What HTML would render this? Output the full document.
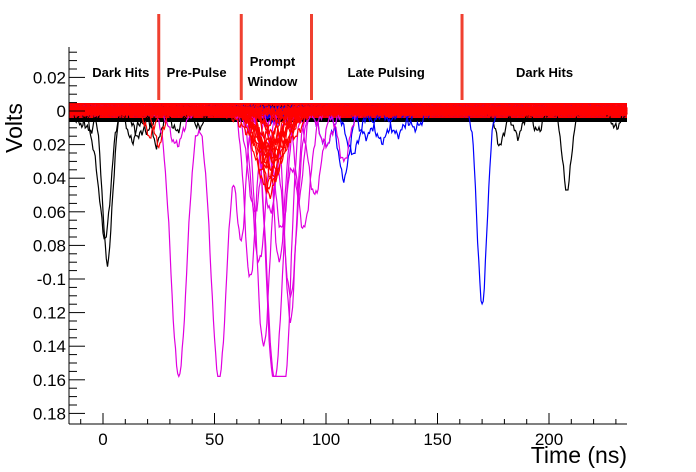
<!DOCTYPE html>
<html><head><meta charset="utf-8"><style>
body{margin:0;background:#fff;}
svg{display:block;font-family:"Liberation Sans",Arial,sans-serif;}
</style></head><body>
<svg id="c" width="696" height="472" viewBox="0 0 696 472">
<g id="traces"></g>
<g id="axes"></g>
<g id="ann"></g>
</svg>
<script>
// data
const xTicks=[0,50,100,150,200];
const yTicks=[0.02,0,-0.02,-0.04,-0.06,-0.08,-0.1,-0.12,-0.14,-0.16,-0.18];
const yTickLabels=["0.02","0","0.02","0.04","0.06","0.08","-0.1","0.12","0.14","0.16","0.18"];
const blackPulses=[[[2,0.09,2.2]],[[1,0.075,2.5],[-4,0.015,2]],[[13,0.018,2],[20,0.012,2]],[[-6,0.012,2],[16,0.015,2.5]],[[208,0.047,2]],[[178,0.02,2],[186,0.015,2]],[[195,0.012,2],[230,0.01,2]],[[24,0.02,2],[43,0.01,2]],[[-10,0.008,2],[33,0.012,2]]];
const bluePulses=[[[170,0.115,2.2]],[[108,0.04,2.5]],[[100,0.02,3],[118,0.015,3]],[[125,0.018,3],[140,0.01,3]],[[112,0.025,3],[132,0.014,3]],[[77,0.006,3]]];
const magentaPulses=[[[34,0.158,3.5],[52,0.16,3.5],[62,0.075,2],[77,0.16,3.5]],[[72,0.14,3],[84,0.11,3]],[[76,0.15,3],[82,0.14,2.5]],[[66,0.1,2.5],[80,0.07,3],[88,0.05,2]],[[33,0.02,3],[70,0.09,3],[90,0.07,3]],[[75,0.06,3],[95,0.05,3]],[[68,0.06,3],[108,0.03,2.5]],[[84,0.125,2.5]],[[79,0.09,2.5],[100,0.02,3]]];
const redPulses=[[[75,0.05,3]],[[73,0.045,4]],[[77,0.04,3.5]],[[71,0.035,4]],[[79,0.03,4]],[[75,0.028,5]],[[70,0.025,3]],[[82,0.022,3]],[[74,0.02,6]],[[76,0.018,7]],[[25,0.02,2]],[[21,0.015,2]],[[86,0.015,3]],[[74,0.048,2.5]],[[76,0.042,2.8]],[[78,0.036,3]],[[72,0.03,3.5]],[[75,0.034,4.5]],[[77,0.026,6]],[[73,0.022,8]],[[80,0.02,5]]];
const regionX=[25,62,93.5,161];
const regionLabels=[["Dark Hits",8,77],["Pre-Pulse",42,77],["Prompt",76,66],["Window",76,86],["Late Pulsing",127,77],["Dark Hits",198,77]];

const X=t=>103+2.23*t, Y=v=>111-v*1680;
const NS="http://www.w3.org/2000/svg";
function mk(tag,attrs,parent){const e=document.createElementNS(NS,tag);for(const k in attrs)e.setAttribute(k,attrs[k]);parent.appendChild(e);return e;}
const tr=document.getElementById('traces'),ax=document.getElementById('axes'),an=document.getElementById('ann');

function band(col,y0,y1){const r=mk('rect',{x:69,y:y0,width:558,height:y1-y0,fill:col},tr);

}
band('#000',106,122);band('#00f',103,117);band('#f00',103,118);

function drawSet(set,col,name){set.forEach((ps,i)=>{let d='';let k=0;
 for(let t=-15;t<=235;t+=0.5){let v=0;ps.forEach(p=>{v+=p[1]*Math.exp(-((t-p[0])**2)/(2*p[2]*p[2]));});
  const n=(v>0.15?0:0.003)*Math.sin(t*7.3+i*2.1)*Math.cos(t*3.1+i);
  v=Math.min(v+n,0.158);
  d+=(k++?'L':'M')+X(t).toFixed(1)+' '+Y(-v).toFixed(1);}
 const p=mk('path',{d:d,fill:'none',stroke:col,'stroke-width':1.2},tr);
 
 });}
drawSet(blackPulses,'#000','dark-hit');
drawSet(bluePulses,'#0000ff','late-pulse');
drawSet(magentaPulses,'#e000e0','pre-pulse');
drawSet(redPulses,'#ff0000','prompt');

mk('line',{x1:69,y1:47,x2:69,y2:424,stroke:'#000'},ax);
mk('line',{x1:69,y1:424,x2:627,y2:424,stroke:'#000'},ax);
for(let t=-10;t<=230;t+=10){const maj=t%50===0;mk('line',{x1:X(t),x2:X(t),y1:424,y2:maj?413:419,stroke:'#000'},ax);}
xTicks.forEach(t=>{const e=mk('text',{x:X(t),y:445,'text-anchor':'middle','font-size':17},ax);e.textContent=t;
 });
for(let v=0.035;v>=-0.185;v-=0.005){const vv=Math.round(v*1000)/1000;const maj=Math.abs(Math.round(vv*1000)%20)===0;
 mk('line',{x1:69,x2:maj?85:77,y1:Y(vv),y2:Y(vv),stroke:'#000'},ax);}
yTicks.forEach((v,i)=>{const e=mk('text',{x:66,y:Y(v)+6,'text-anchor':'end','font-size':17},ax);e.textContent=yTickLabels[i];
 });
let e=mk('text',{x:22,y:128,'font-size':23,transform:'rotate(-90 22 128)','text-anchor':'middle'},ax);e.textContent='Volts';

e=mk('text',{x:627,y:463,'font-size':23,'text-anchor':'end'},ax);e.textContent='Time (ns)';


regionX.forEach(t=>{const l=mk('line',{x1:X(t),x2:X(t),y1:14,y2:100,stroke:'#f04030','stroke-width':3},an);
 });
regionLabels.forEach(r=>{const e=mk('text',{x:X(r[1]),y:r[2],'text-anchor':'middle','font-size':13,'font-weight':'bold'},an);e.textContent=r[0];
 });
</script>
</body></html>
